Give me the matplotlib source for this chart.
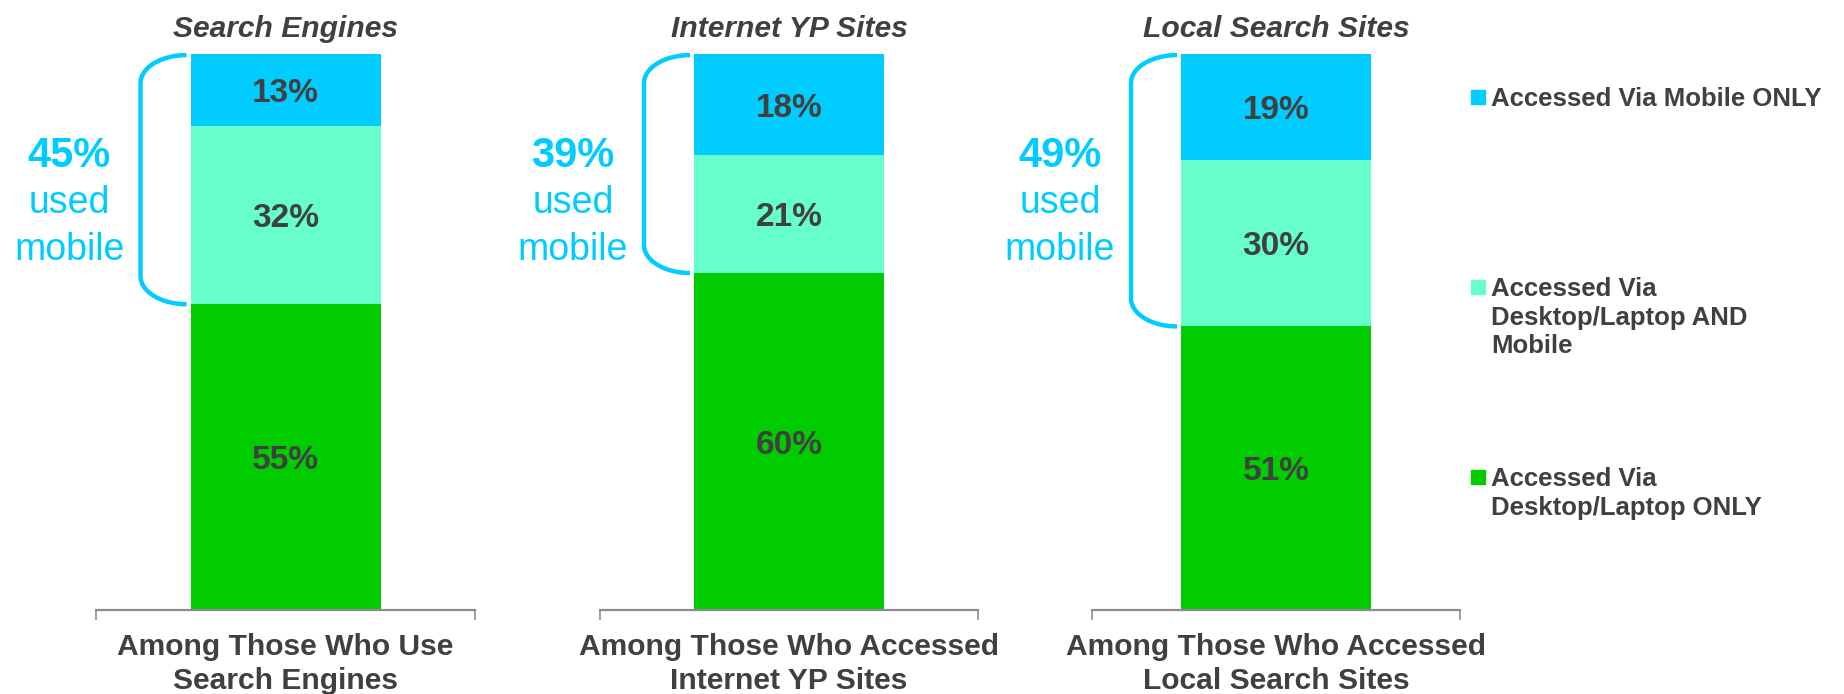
import numpy as np
import matplotlib
matplotlib.use("Agg")
import matplotlib.pyplot as plt
from matplotlib import transforms
from matplotlib.patches import Rectangle

plt.rcParams['font.family'] = ['Liberation Sans', 'DejaVu Sans']

# --- data ---
titles = ["Search Engines", "Internet YP Sites", "Local Search Sites"]
categories = ["Among Those Who Use\nSearch Engines",
              "Among Those Who Accessed\nInternet YP Sites",
              "Among Those Who Accessed\nLocal Search Sites"]
desktop_only = [55, 60, 51]
desktop_and_mobile = [32, 21, 30]
mobile_only = [13, 18, 19]
used_mobile = [45, 39, 49]

legend_labels = ["Accessed Via Mobile ONLY",
                 "Accessed Via\nDesktop/Laptop AND\nMobile",
                 "Accessed Via\nDesktop/Laptop ONLY"]

C_MOB = '#00CCFF'
C_BOTH = '#66FFCC'
C_DESK = '#00CC00'
TXT = '#404040'
AXIS = '#8C8C8C'

W, H = 1844, 694
fig = plt.figure(figsize=(W / 100, H / 100), dpi=100)

# axes placement in pixels (left, width)
panels = [(96, 379), (600, 378), (1092, 368)]
top_px, bot_px = 54, 610
ax_h = bot_px - top_px
BAR_W = 190

for i, (left, width) in enumerate(panels):
    ax = fig.add_axes([left / W, 1 - bot_px / H, width / W, ax_h / H])
    total = desktop_only[i] + desktop_and_mobile[i] + mobile_only[i]
    segs = [(desktop_only[i], C_DESK), (desktop_and_mobile[i], C_BOTH), (mobile_only[i], C_MOB)]
    # labels: baseline sits half a cap height below the segment centre
    lab_tr = transforms.offset_copy(ax.transData, fig=fig, y=-12, units='dots')
    bottom = 0
    for val, col in segs:
        ax.bar(0, val, width=BAR_W, bottom=bottom, color=col, linewidth=0)
        ax.text(0, bottom + val / 2, f"{val}%", transform=lab_tr, ha='center',
                va='baseline', fontsize=24, fontweight='bold', color=TXT)
        bottom += val
    ax.set_xlim(-width / 2, width / 2)
    ax.set_ylim(0, total)

    for s in ['left', 'top', 'right']:
        ax.spines[s].set_visible(False)
    ax.spines['bottom'].set_color(AXIS)
    ax.spines['bottom'].set_linewidth(1.6)
    ax.set_xticks([-width / 2, width / 2])
    ax.set_xticklabels(['', ''])
    ax.tick_params(axis='x', length=7.5, width=1.2, color=AXIS)
    ax.set_yticks([])

    ax.set_title(titles[i], fontsize=21.6, fontweight='bold', style='italic',
                 color=TXT, pad=12.5)
    ax.text(0.5, -0.041, categories[i], transform=ax.transAxes, ha='center',
            va='top', fontsize=21.6, fontweight='bold', color=TXT, linespacing=1.28)

    # bracket around the mobile share
    tr = transforms.blended_transform_factory(ax.transData, ax.transAxes)
    x_end = -BAR_W / 2 - 4
    rx = 46
    ry = 28 / ax_h
    y_top = 0.998
    y_bot = desktop_only[i] / total
    t1 = np.linspace(np.pi / 2, np.pi, 30)
    t2 = np.linspace(np.pi, 1.5 * np.pi, 30)
    xs = np.concatenate([x_end + rx * np.cos(t1), x_end + rx * np.cos(t2)])
    ys = np.concatenate([y_top - ry + ry * np.sin(t1), y_bot + ry + ry * np.sin(t2)])
    ax.plot(xs, ys, transform=tr, color=C_MOB, lw=3.2, clip_on=False,
            solid_capstyle='butt')

    ax.text(-216, 1 - 113 / ax_h, f"{used_mobile[i]}%", transform=tr, ha='center',
            va='baseline', fontsize=30, fontweight='bold', color=C_MOB, clip_on=False)
    ax.text(-216, 1 - 159 / ax_h, "used", transform=tr, ha='center',
            va='baseline', fontsize=27, color=C_MOB, clip_on=False)
    ax.text(-216, 1 - 206 / ax_h, "mobile", transform=tr, ha='center',
            va='baseline', fontsize=27, color=C_MOB, clip_on=False)

# legend drawn by hand: square marker + label, first line aligned to marker
leg_colors = [C_MOB, C_BOTH, C_DESK]
leg_tops = [87, 277, 467]
for lab, col, yt in zip(legend_labels, leg_colors, leg_tops):
    fig.patches.append(Rectangle((1471 / W, 1 - (yt + 17) / H), 14 / W, 14 / H,
                                 transform=fig.transFigure, color=col))
    fig.text(1491 / W, 1 - yt / H, lab, ha='left', va='top', fontsize=18.5,
             fontweight='bold', color=TXT, linespacing=1.24)

fig.savefig('out.png', dpi=100)
